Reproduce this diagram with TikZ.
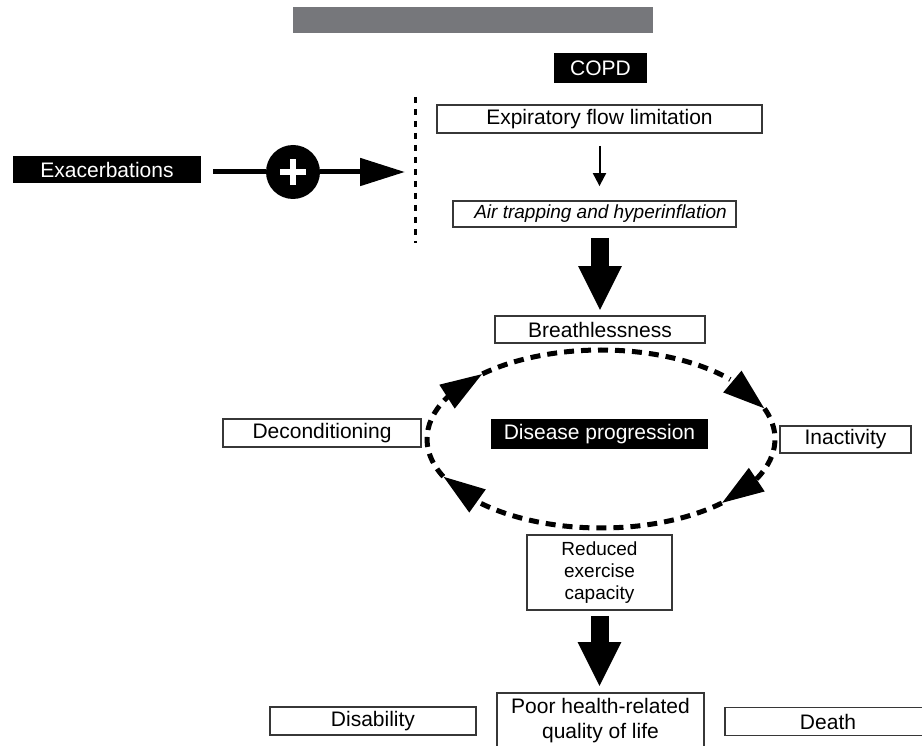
\documentclass[tikz,border=0pt]{standalone}
\usepackage{fontspec}
\setmainfont{Liberation Sans}
\usetikzlibrary{arrows.meta,bending,calc}
\definecolor{barGray}{RGB}{118,119,123}
\definecolor{edge}{RGB}{55,55,55}
\begin{document}
\begin{tikzpicture}[x=1pt,y=1pt,
  fs/.style={font=\fontsize{21}{25}\selectfont},
  wbox/.style={draw=edge, line width=1.8pt, fill=white, inner sep=0pt, fs},
  bbox/.style={fill=black, text=white, inner sep=0pt, fs},
  bigarrow/.style={line width=18pt, -{Triangle[length=45pt,width=40pt]}},
  cyc/.style={line width=5pt, dash pattern=on 10pt off 7pt, -{Triangle[length=42pt,width=27pt]}},
  plusnode/.style={circle, fill=black, minimum size=54pt, inner sep=0pt,
    path picture={
      \draw[white, line width=6pt] ([xshift=-13pt]path picture bounding box.center) -- ([xshift=13pt]path picture bounding box.center);
      \draw[white, line width=6pt] ([yshift=-13pt]path picture bounding box.center) -- ([yshift=13pt]path picture bounding box.center);
    }},
]
\useasboundingbox (0,0) rectangle (922,-746);

% header bar
\node[fill=barGray, minimum width=360pt, minimum height=26pt, inner sep=0pt] (bar) at (473,-20) {};

% top chain
\node[bbox, minimum width=93pt, minimum height=30pt] (copd) at (600.5,-68) {COPD};
\node[wbox, minimum width=325pt, minimum height=28pt] (expir) at (599.5,-119) {Expiratory flow limitation};
\node[wbox, minimum width=283pt, minimum height=26pt, font=\fontsize{19}{23}\selectfont\itshape] (air) at (594.5,-214) {\hspace{12pt}Air trapping and hyperinflation};
\draw[line width=2pt, -{Triangle[length=13pt,width=13pt]}, shorten <=12pt, shorten >=14pt] (expir.south) -- (expir.south |- air.north);

% exacerbations
\node[bbox, minimum width=188pt, minimum height=27pt] (exac) at (107,-169.5) {Exacerbations};
\node[plusnode] (plus) at (293,-172) {};
\coordinate (dtop) at (415,-97);
\coordinate (dbot) at (415,-243);
\coordinate (dmid) at (415,-172);
\draw[line width=3pt, dash pattern=on 6pt off 6pt] (dtop) -- (dbot);
\draw[line width=5pt, shorten <=12pt] (exac.east |- plus.west) -- (plus.west);
\draw[line width=5pt, -{Triangle[length=45pt,width=27pt]}, shorten >=10pt] (plus.east) -- (dmid);

% breathlessness
\node[wbox, minimum width=210pt, minimum height=27pt] (breath) at (600,-329.5) {Breathlessness};
\draw[bigarrow, shorten <=10pt, shorten >=4pt] (breath.north |- air.south) -- (breath.north);

% cycle
\node[wbox, minimum width=198pt, minimum height=28pt] (decon) at (322,-433) {Deconditioning};
\node[bbox, minimum width=217pt, minimum height=30pt] (dis) at (599.5,-434) {Disease progression\hspace{12pt}};
\node[wbox, minimum width=131pt, minimum height=27pt] (inact) at (845.5,-439.5) {Inactivity};
\node[wbox, minimum width=145pt, minimum height=75pt, align=center, font=\fontsize{19}{22}\selectfont] (reduced) at (599.5,-572.5) {Reduced\\exercise\\capacity};

\coordinate (ec) at (601,-439);
\draw[cyc] ($(ec)+(205:174pt and 89pt)$) arc[start angle=205, end angle=133, x radius=174pt, y radius=89pt];
\draw[cyc] ($(ec)+(133:174pt and 89pt)$) arc[start angle=133, end angle=20, x radius=174pt, y radius=89pt];
\draw[cyc] ($(ec)+(20:174pt and 89pt)$) arc[start angle=20, end angle=-46, x radius=174pt, y radius=89pt];
\draw[cyc] ($(ec)+(-46:174pt and 89pt)$) arc[start angle=-46, end angle=-155, x radius=174pt, y radius=89pt];

% outcomes
\node[wbox, minimum width=207pt, minimum height=55pt, align=center] (poor) at (600.5,-720.5) {Poor health-related\\quality of life};
\draw[bigarrow, shorten <=5pt, shorten >=5pt] (reduced.south) -- (reduced.south |- poor.north);
\node[wbox, minimum width=206pt, minimum height=28pt] (disab) at (373,-721) {Disability};
\node[wbox, minimum width=206pt, minimum height=28pt] (death) at (828,-721.5) {Death};
\end{tikzpicture}
\end{document}
